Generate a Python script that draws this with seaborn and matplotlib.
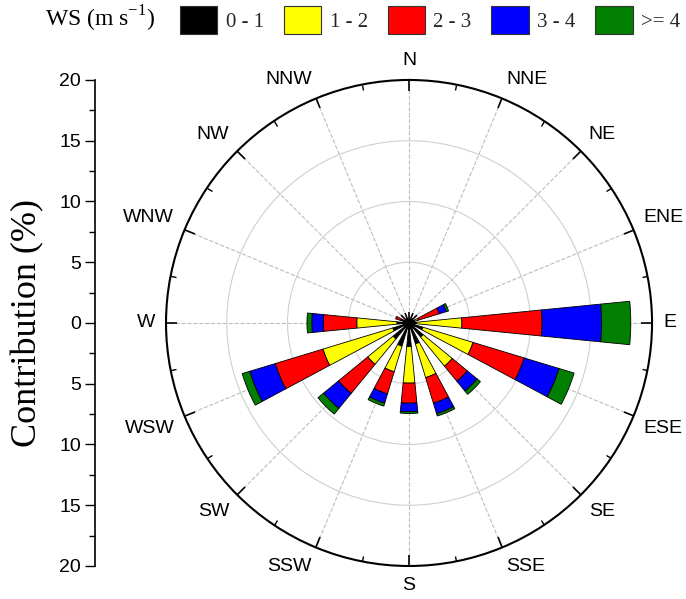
import numpy as np
import matplotlib
matplotlib.use("Agg")
from matplotlib import pyplot as plt
from matplotlib.patches import Patch
import seaborn as sns

sns.set_theme(style="white")
plt.rcParams["font.family"] = ["Liberation Sans", "DejaVu Sans"]
plt.rcParams["mathtext.fontset"] = "custom"
plt.rcParams["mathtext.rm"] = "Liberation Serif"

directions = ["N", "NNE", "NE", "ENE", "E", "ESE", "SE", "SSE",
              "S", "SSW", "SW", "WSW", "W", "WNW", "NW", "NNW"]
speed_bins = ["0 - 1", "1 - 2", "2 - 3", "3 - 4", ">= 4"]
bin_colors = ["black", "#ffff00", "#ff0000", "#0000ff", "#007f00"]

# contribution (%) of each wind speed bin per direction
ws_0_1 = [0.3, 0.3, 0.4, 0.5, 0.6, 1.2, 1.5, 1.8, 1.95, 2.0, 1.7, 1.4, 1.0, 0.6, 0.4, 0.3]
ws_1_2 = [0.0, 0.0, 0.0, 0.3, 3.75, 4.3, 3.1, 2.9, 3.0, 2.2, 2.7, 6.0, 3.3, 0.1, 0.0, 0.0]
ws_2_3 = [0.0, 0.0, 0.0, 1.8, 6.6, 4.4, 1.6, 2.2, 1.65, 1.9, 3.1, 4.1, 2.75, 0.45, 0.0, 0.0]
ws_3_4 = [0.0, 0.0, 0.0, 0.6, 4.9, 3.0, 1.05, 0.9, 0.7, 0.8, 1.6, 2.2, 0.95, 0.0, 0.0, 0.0]
ws_ge4 = [0.0, 0.0, 0.0, 0.2, 2.4, 1.3, 0.35, 0.2, 0.15, 0.25, 0.6, 0.65, 0.4, 0.0, 0.0, 0.0]
series = [ws_0_1, ws_1_2, ws_2_3, ws_3_4, ws_ge4]

axis_ticks = [-20, -15, -10, -5, 0, 5, 10, 15, 20]

fig = plt.figure(figsize=(6.86, 5.99), dpi=100)

# polar rose
ax = fig.add_axes([0.242, 0.0551, 0.7085, 0.8114], projection="polar")
ax.set_theta_zero_location("N")
ax.set_theta_direction(-1)
theta = np.deg2rad(np.arange(len(directions)) * 22.5)
width = 2 * np.pi / len(directions) * 0.5

bottom = np.zeros(len(directions))
for vals, col in zip(series, bin_colors):
    vals = np.array(vals)
    m = vals > 0
    ax.bar(theta[m], vals[m], width=width, bottom=bottom[m], color=col,
           edgecolor="black", linewidth=0.6, zorder=3)
    bottom += vals

ax.set_ylim(0, 20)
ax.set_yticks([5, 10, 15])
ax.set_yticklabels([])
ax.set_xticks(theta)
ax.set_xticklabels([])
ax.set_xticks(theta + np.deg2rad(11.25), minor=True)
ax.xaxis.grid(True, which="major", ls="--", color="#bdbdbd", lw=0.8)
ax.yaxis.grid(True, ls="-", color="#cfcfcf", lw=0.8)
ax.tick_params(axis="x", which="both", bottom=True, top=True)
ax.tick_params(axis="x", which="major", direction="in", length=8, width=1.2, color="black")
ax.tick_params(axis="x", which="minor", direction="in", length=4, width=1, color="black")
ax.spines["polar"].set_color("black")
ax.spines["polar"].set_linewidth(1.5)
ax.set_facecolor("white")

# direction labels just outside the rim, aligned away from the centre
for t, name in zip(theta, directions):
    sx, cy = np.sin(t), np.cos(t)
    ha = "left" if sx > 0.1 else ("right" if sx < -0.1 else "center")
    va = "bottom" if cy > 0.1 else ("top" if cy < -0.1 else "center")
    ax.annotate(name, xy=(t, 20), xytext=(8 * sx, 8 * cy),
                textcoords="offset points", ha=ha, va=va, fontsize=14,
                color="black", annotation_clip=False)

# left scale
axl = fig.add_axes([95 / 686, 0.0551, 0.0005, 0.8114])
axl.set_facecolor("none")
for s in ["top", "right", "bottom"]:
    axl.spines[s].set_visible(False)
axl.spines["left"].set_color("black")
axl.spines["left"].set_linewidth(1.2)
axl.set_ylim(-20, 20)
axl.set_xticks([])
axl.set_yticks(axis_ticks)
axl.set_yticklabels([str(abs(v)) for v in axis_ticks])
axl.set_yticks(np.arange(-17.5, 20, 5), minor=True)
axl.tick_params(axis="y", which="major", direction="out", length=7, width=1,
                color="black", labelsize=14, labelcolor="black", pad=3, left=True)
axl.tick_params(axis="y", which="minor", direction="out", length=4, width=1,
                color="black", left=True)

fig.text(28 / 686, 1 - 323 / 599, "Contribution (%)", rotation=90, ha="center",
         va="center", fontsize=26, family="Liberation Serif", color="black")

# legend
handles = [Patch(facecolor=c, edgecolor="#333333", linewidth=0.8) for c in bin_colors]
fig.legend(handles, speed_bins, loc="center left",
           bbox_to_anchor=(180 / 686, 1 - 20 / 599), ncol=5, frameon=False,
           prop={"family": "Liberation Serif", "size": 15},
           handlelength=1.8, handleheight=1.7, handletextpad=0.4,
           columnspacing=0.95, borderpad=0, borderaxespad=0)
fig.text(45 / 686, 1 - 19 / 599, r"WS (m s$^{\mathregular{-1}}$)", ha="left",
         va="center", fontsize=17, family="Liberation Serif", color="black")

fig.savefig("out.png", dpi=100)
